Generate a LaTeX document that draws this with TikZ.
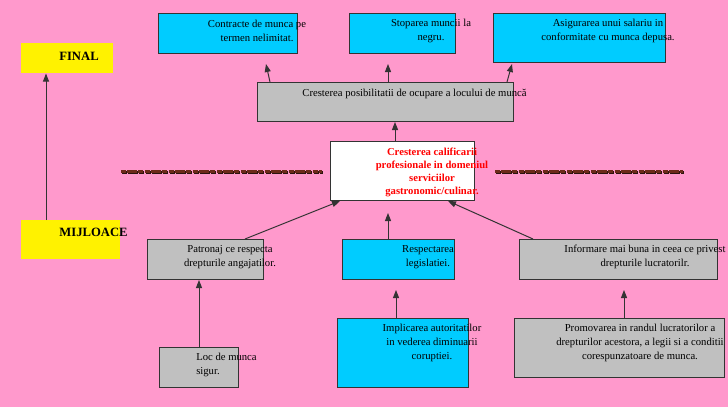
\documentclass[tikz,border=0pt]{standalone}
\usepackage{fontspec}
\setmainfont{Liberation Serif}
\usepackage{tikz}
\usetikzlibrary{arrows.meta,calc}
\definecolor{pinkbg}{RGB}{255,153,204}
\definecolor{colCyan}{RGB}{0,204,255}
\definecolor{colGray}{RGB}{192,192,192}
\definecolor{boxline}{RGB}{51,51,51}
\definecolor{dashbrown}{RGB}{110,42,26}
\definecolor{dashshade}{RGB}{45,20,15}

\begin{document}
\begin{tikzpicture}[x=0.75pt,y=0.75pt,yscale=-1,xscale=1,
  box/.style={draw=boxline, line width=0.75pt, anchor=north west, inner sep=0pt},
  cyanbox/.style={box, fill=colCyan},
  graybox/.style={box, fill=colGray},
  yellowbox/.style={anchor=north west, inner sep=0pt, fill=yellow},
  txt/.style={font=\fontsize{8}{10.5}\selectfont, align=center, inner sep=0.75pt},
  redtxt/.style={font=\bfseries\fontsize{8}{9.75}\selectfont, text=red, align=center, inner sep=0.75pt},
  title/.style={font=\bfseries\fontsize{9.5}{11}\selectfont, inner sep=0.75pt},
  arr/.style={draw=boxline, line width=0.75pt, -{Triangle[length=6pt,width=4.5pt]}},
  dashline/.style={line width=2.25pt, dash pattern=on 3.7pt off 0.5pt on 3.7pt off 0.5pt on 3.7pt off 0.5pt on 3.7pt off 1.7pt}
]
\useasboundingbox (0,0) rectangle (728,407);
%Background
\fill[pinkbg] (0,0) rectangle (728,407);

%Shape: Rectangle [FINAL / MIJLOACE]
\node[yellowbox, minimum width=69pt, minimum height=22.5pt] (final) at (21,43) {};
\node[yellowbox, minimum width=74.25pt, minimum height=29.25pt] (mijloace) at (21,220) {};

%Shape: Rectangle [top row]
\node[cyanbox, minimum width=104.25pt, minimum height=30pt] (contracte) at (158,13) {};
\node[cyanbox, minimum width=79.5pt, minimum height=30pt] (stoparea) at (349,13) {};
\node[cyanbox, minimum width=129pt, minimum height=36.75pt] (asigurarea) at (493,13) {};
%Shape: Rectangle [middle]
\node[graybox, minimum width=192pt, minimum height=29.25pt] (posibil) at (257,82) {};
\node[box, fill=white, minimum width=108pt, minimum height=44.25pt] (calificare) at (330,141) {};
%Shape: Rectangle [bottom rows]
\node[graybox, minimum width=87pt, minimum height=30pt] (patronaj) at (147,239) {};
\node[cyanbox, minimum width=84pt, minimum height=30pt] (legislatie) at (342,239) {};
\node[graybox, minimum width=148.5pt, minimum height=30pt] (informare) at (519,239) {};
\node[graybox, minimum width=59.25pt, minimum height=30pt] (locmunca) at (159,347) {};
\node[cyanbox, minimum width=98.25pt, minimum height=51.75pt] (implicarea) at (337,318) {};
\node[graybox, minimum width=157.5pt, minimum height=44.25pt] (promovarea) at (514,318) {};

%Straight Lines [dashed separators, with shade]
\draw[dashline, draw=dashshade] (122,172) -- (323,172);
\draw[dashline, draw=dashbrown] (121,171) -- (322,171);
\draw[dashline, draw=dashshade] (496,172) -- (684,172);
\draw[dashline, draw=dashbrown] (495,171) -- (683,171);

%Straight Lines [arrows]
\draw[arr] ($(mijloace.north west)+(25,0)$) -- ($(final.south west)+(25,0)$);
\draw[arr] ($(posibil.north west)+(13,0)$) -- ($(contracte.south west)+(108,10)$);
\draw[arr] ($(posibil.north west)+(131,0)$) -- ($(stoparea.south west)+(39,10)$);
\draw[arr] ($(posibil.north west)+(250,0)$) -- ($(asigurarea.south west)+(19,1)$);
\draw[arr] ($(calificare.north west)+(65,0)$) -- ($(posibil.south west)+(138,0)$);
\draw[arr] ($(patronaj.north west)+(98,0)$) -- ($(calificare.south west)+(10,0)$);
\draw[arr] ($(legislatie.north west)+(46,0)$) -- ($(calificare.south west)+(58,12)$);
\draw[arr] ($(informare.north west)+(14,0)$) -- ($(calificare.south west)+(118,0)$);
\draw[arr] ($(locmunca.north west)+(40,0)$) -- ($(patronaj.south west)+(52,0)$);
\draw[arr] ($(implicarea.north west)+(59,0)$) -- ($(legislatie.south west)+(54,10)$);
\draw[arr] ($(promovarea.north west)+(110,0)$) -- ($(informare.south west)+(105,10)$);

% Text Node
\node[title] (final-txt) at (79,56.5) {FINAL};
% Text Node
\node[title] (mijloace-txt) at (93.5,232) {MIJLOACE};
% Text Node
\node[txt] (contracte-txt) at (257,31) {Contracte de munca pe\\termen nelimitat.};
% Text Node
\node[txt] (stoparea-txt) at (431,31) {Stoparea muncii la\\negru.};
% Text Node
\node[txt] (asigurarea-txt) at (608,31) {Asigurarea unui salariu in\\conformitate cu munca depusa.};
% Text Node
\node[txt] (posibil-txt) at (414.5,94) {Cresterea posibilitatii de ocupare a locului de muncă};
% Text Node
\node[redtxt] (calificare-txt) at (432,172) {Cresterea calificarii\\profesionale in domeniul\\serviciilor\\gastronomic/culinar.};
% Text Node
\node[txt] (patronaj-txt) at (230,257) {Patronaj ce respecta\\drepturile angajatilor.};
% Text Node
\node[txt] (legislatie-txt) at (428,257) {Respectarea\\legislatiei.};
% Text Node
\node[txt] (informare-txt) at (645,257) {Informare mai buna in ceea ce privest\\drepturile lucratorilr.};
% Text Node
\node[txt, align=left, anchor=west] (locmunca-txt) at (195,365) {Loc de munca\\sigur.};
% Text Node
\node[txt] (implicarea-txt) at (432,342.5) {Implicarea autoritatilor\\in vederea diminuarii\\coruptiei.};
% Text Node
\node[txt] (promovarea-txt) at (640,342.5) {Promovarea in randul lucratorilor a\\drepturilor acestora, a legii si a conditii\\corespunzatoare de munca.};

\end{tikzpicture}
\end{document}
